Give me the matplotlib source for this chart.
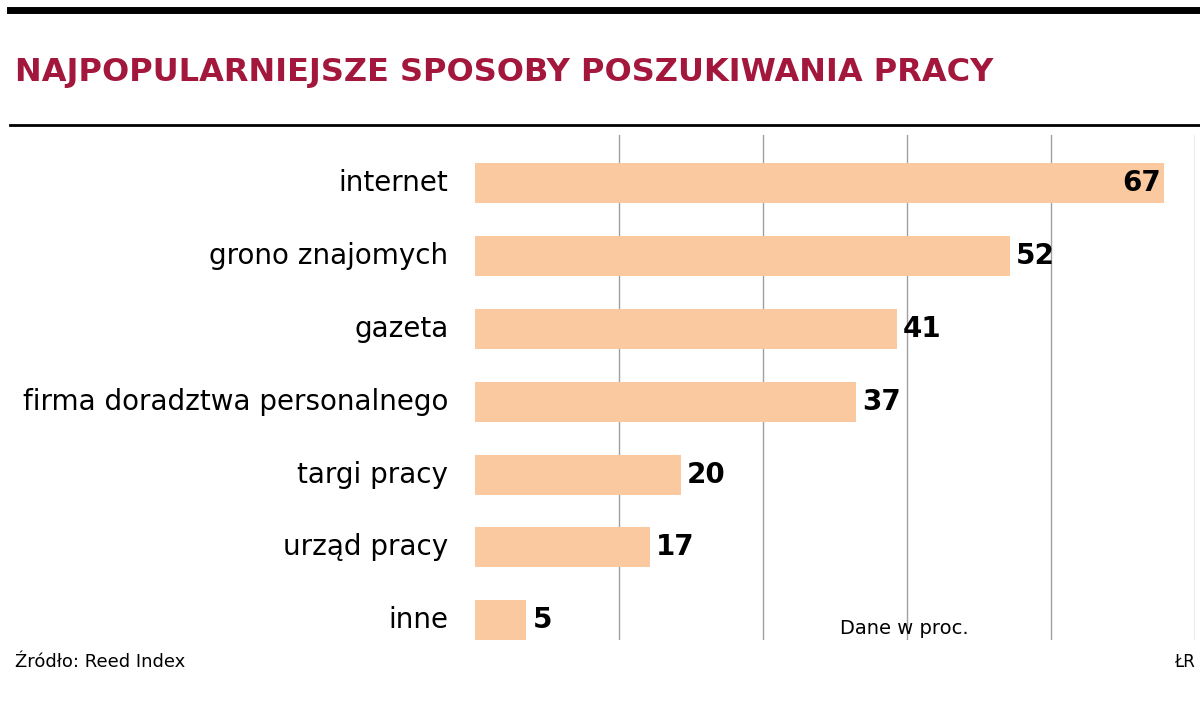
import matplotlib
matplotlib.use("Agg")
import matplotlib.pyplot as plt
from matplotlib import font_manager as fm

categories = ["internet", "grono znajomych", "gazeta", "firma doradztwa personalnego",
              "targi pracy", "urząd pracy", "inne"]
values = [67, 52, 41, 37, 20, 17, 5]
title = "NAJPOPULARNIEJSZE SPOSOBY POSZUKIWANIA PRACY"

names = {f.name for f in fm.fontManager.ttflist}
fam = "Liberation Sans Narrow" if "Liberation Sans Narrow" in names else "DejaVu Sans"
plt.rcParams["font.family"] = fam

W, H = 1200, 701
fig = plt.figure(figsize=(W/100, H/100), dpi=100)
def fx(x): return x / W
def fy(y): return 1 - y / H

# rules
fig.add_artist(plt.Line2D([fx(10), fx(1200)], [fy(10), fy(10)], color="black", lw=5))
fig.add_artist(plt.Line2D([fx(10), fx(1200)], [fy(125), fy(125)], color="black", lw=2))
fig.text(fx(15), fy(72), title, color="#a3173c", fontsize=23, fontweight="bold",
         va="center", ha="left")

ax = fig.add_axes([fx(475), fy(640), fx(1195) - fx(475), (640 - 135) / H])
ax.set_xlim(0, 70)
ax.set_ylim(6.27, -0.66)
for g in [14, 28, 42, 56, 70]:
    ax.axvline(g, color="#a0a0a0", lw=1, zorder=0)
ypos = list(range(len(categories)))
ax.barh(ypos, values, height=0.55, color="#fbc9a0", zorder=2)
for y, c, v in zip(ypos, categories, values):
    ax.text(-2.6, y, c, ha="right", va="center", fontsize=20)
    if v > 60:
        ax.text(v - 0.3, y, str(v), ha="right", va="center", fontsize=20, fontweight="bold")
    else:
        ax.text(v + 0.6, y, str(v), ha="left", va="center", fontsize=20, fontweight="bold")
ax.axis("off")

fig.text(fx(840), fy(628), "Dane w proc.", fontsize=14, va="center", ha="left")
fig.text(fx(15), fy(662), "Źródło: Reed Index", fontsize=13, va="center", ha="left")
fig.text(fx(1195), fy(662), "ŁR", fontsize=12, va="center", ha="right")

fig.savefig("out.png", dpi=100)
